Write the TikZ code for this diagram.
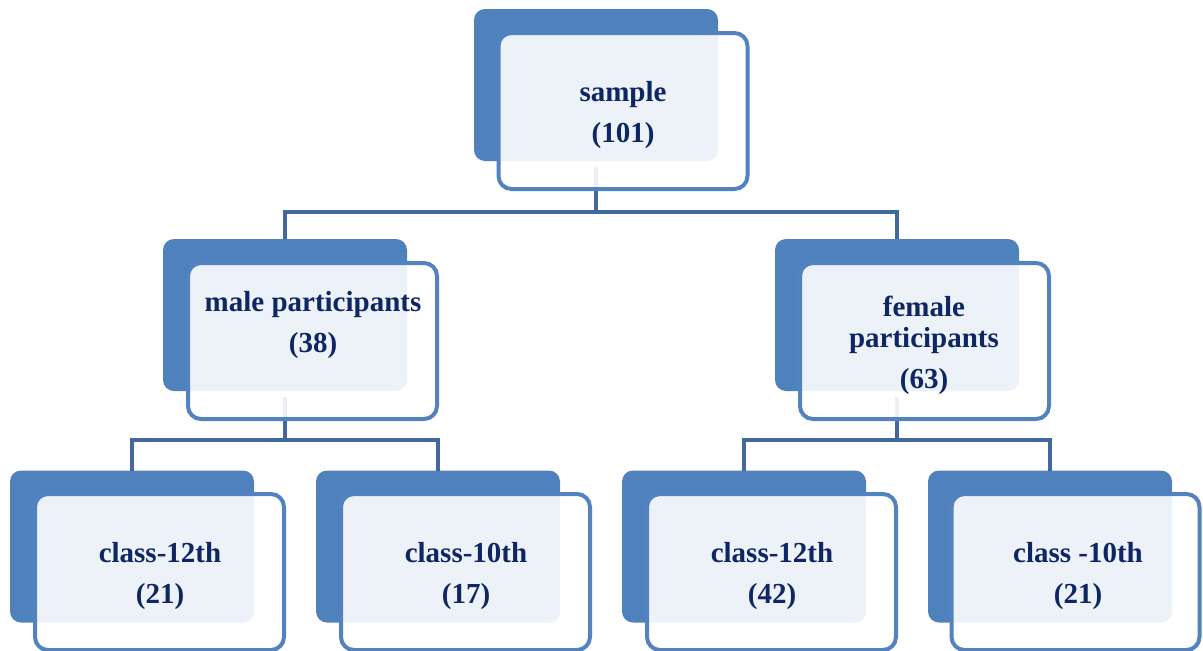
\documentclass[tikz,border=0pt]{standalone}
\usepackage{fontspec}
\setmainfont{Liberation Serif}
\definecolor{darkbox}{HTML}{4F81BD}
\definecolor{frameblue}{HTML}{5283C0}
\definecolor{linkblue}{HTML}{41699C}
\definecolor{textnavy}{HTML}{0E2663}
\tikzset{
  backbox/.style={fill=darkbox, rounded corners=11pt, minimum width=244pt, minimum height=152pt, inner sep=0pt, outer sep=0pt},
  frontbox/.style={draw=frameblue, line width=4pt, fill=white, fill opacity=0.9, draw opacity=1, rounded corners=13pt, minimum width=249pt, minimum height=156pt, inner sep=0pt, outer sep=0pt},
  label/.style={text=textnavy, align=center, font=\bfseries\fontsize{29}{31}\selectfont, inner sep=0pt},
  link/.style={draw=linkblue, line width=4pt}
}
\begin{document}
\begin{tikzpicture}[x=1pt, y=-1pt]
\useasboundingbox (0,0) rectangle (1203,651);
% back boxes
\node[backbox] (b0) at (596,85) {};
\node[backbox] (b1) at (285,315) {};
\node[backbox] (b2) at (897,315) {};
\node[backbox] (b3) at (132,546.5) {};
\node[backbox] (b4) at (438,546.5) {};
\node[backbox] (b5) at (744,546.5) {};
\node[backbox] (b6) at (1050,546.5) {};
% connectors
\coordinate (j0) at (596,212);
\coordinate (j1) at (285,440);
\coordinate (j2) at (897,440);
\draw[link] ([yshift=-6pt]b0.south) -- (j0) -| (b1.north);
\draw[link] (j0) -| (b2.north);
\draw[link] ([yshift=-6pt]b1.south) -- (j1) -| (b3.north);
\draw[link] (j1) -| (b4.north);
\draw[link] ([yshift=-6pt]b2.south) -- (j2) -| (b5.north);
\draw[link] (j2) -| (b6.north);
% front boxes
\node[frontbox] (f0) at (623,111) {};
\node[frontbox] (f1) at (312.5,341) {};
\node[frontbox] (f2) at (924.5,341) {};
\node[frontbox] (f3) at (159.5,572) {};
\node[frontbox] (f4) at (465.5,572) {};
\node[frontbox] (f5) at (771.5,572) {};
\node[frontbox, minimum width=248pt] (f6) at (1075.5,572) {};
% texts
\node[label] (t0) at (623,115) {sample\\[10pt](101)};
\node[label] (t1) at (313,325) {male participants\\[10pt](38)};
\node[label] (t2) at (924,345) {female\\participants\\[10pt](63)};
\node[label] (t3) at (160,576.5) {class-12th\\[10pt](21)};
\node[label] (t4) at (466,576.5) {class-10th\\[10pt](17)};
\node[label] (t5) at (772,576.5) {class-12th\\[10pt](42)};
\node[label] (t6) at (1078,576.5) {class -10th\\[10pt](21)};
\end{tikzpicture}
\end{document}
